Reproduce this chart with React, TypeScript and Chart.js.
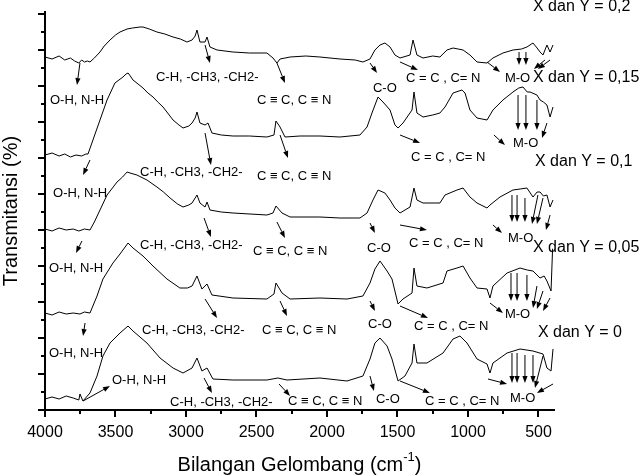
import React, { useEffect, useRef } from "react";
import { Chart, registerables } from "chart.js";

Chart.register(...registerables);

type Pt = [number, number];
type Note = { text: string; at: Pt; from: Pt; to: Pt };

const FONT = '"Liberation Sans", Arial, "DejaVu Sans", sans-serif';

const xTitle = "Bilangan Gelombang (cm";
const xTitleSup = "-1";
const yTitle = "Transmitansi (%)";

const majorTicks = [4000, 3500, 3000, 2500, 2000, 1500, 1000, 500];
const minorTicks = [3750, 3250, 2750, 2250, 1750, 1250, 750];
const yTickStep = 18;
const yMax = 398;
const xMin = 390;
const xMax = 4000;

const seriesNames = ["X dan Y = 0,2", "X dan Y = 0,15", "X dan Y = 0,1", "X dan Y = 0,05", "X dan Y = 0"];
const seriesLabelAt: Pt[] = [[539, 403], [539, 332], [525, 248], [539, 162], [504, 77]];

const spectrum02: Pt[] = [
  [4000, 353], [3950, 351], [3900, 354], [3860, 350], [3820, 352], [3790, 349], [3760, 347], [3740, 350], [3720, 348],
  [3700, 349], [3681, 348], [3650, 352], [3610, 358], [3580, 364], [3539, 370], [3500, 375], [3468, 378], [3418, 381],
  [3380, 382], [3326, 383], [3305, 383], [3260, 381], [3206, 378], [3150, 376], [3092, 373], [3040, 371], [2993, 368],
  [2957, 370], [2935, 374], [2922, 380], [2901, 368], [2865, 368], [2851, 373], [2830, 363], [2780, 360], [2667, 358],
  [2550, 357], [2426, 357], [2383, 352], [2355, 347], [2333, 351], [2262, 353], [2150, 354], [2050, 353], [1908, 351],
  [1800, 350], [1745, 348], [1695, 351], [1660, 360], [1624, 365], [1589, 367], [1553, 363], [1518, 355], [1482, 352],
  [1411, 355], [1390, 370], [1362, 355], [1319, 352], [1250, 354], [1199, 353], [1149, 360], [1106, 362], [1070, 361],
  [1035, 360], [986, 355], [936, 348], [865, 347], [823, 352], [752, 357], [681, 360], [620, 361], [582, 363],
  [539, 367], [510, 362], [489, 358], [468, 355], [440, 365], [418, 358], [397, 365],
];

const spectrum015: Pt[] = [
  [4000, 255], [3950, 257], [3900, 254], [3860, 256], [3820, 253], [3780, 255], [3740, 254], [3710, 256], [3695, 256],
  [3660, 270], [3610, 290], [3560, 310], [3504, 327], [3447, 333], [3425, 336], [3411, 337], [3395, 334], [3376, 330],
  [3340, 326], [3305, 322], [3270, 317], [3234, 313], [3200, 308], [3163, 303], [3130, 297], [3092, 290], [3050, 285],
  [3021, 282], [2980, 284], [2957, 287], [2935, 292], [2922, 298], [2901, 287], [2865, 285], [2844, 287], [2816, 277],
  [2750, 275], [2667, 274], [2550, 274], [2426, 273], [2376, 275], [2362, 289], [2333, 283], [2298, 273], [2191, 274],
  [2050, 274], [1908, 273], [1766, 275], [1716, 283], [1681, 297], [1638, 313], [1603, 308], [1553, 300], [1518, 285],
  [1496, 282], [1461, 287], [1397, 300], [1383, 318], [1362, 297], [1319, 293], [1250, 295], [1199, 297], [1163, 303],
  [1106, 317], [1043, 320], [1021, 317], [986, 300], [936, 292], [865, 290], [823, 300], [752, 310], [681, 318],
  [640, 322], [610, 323], [580, 318], [560, 318], [511, 315], [489, 310], [465, 308], [440, 305], [418, 293], [397, 303],
];

const spectrum01: Pt[] = [
  [4000, 181], [3950, 179], [3900, 182], [3850, 180], [3800, 181], [3760, 179], [3720, 181], [3681, 180], [3650, 188],
  [3610, 200], [3560, 215], [3489, 228], [3450, 233], [3418, 238], [3397, 237], [3348, 235], [3277, 230], [3206, 223],
  [3160, 218], [3113, 212], [3060, 206], [3021, 203], [2980, 205], [2957, 207], [2922, 215], [2901, 207], [2865, 203],
  [2851, 208], [2830, 200], [2750, 198], [2667, 197], [2426, 195], [2383, 197], [2362, 204], [2319, 197], [2262, 193],
  [2050, 193], [1908, 192], [1766, 192], [1716, 197], [1674, 210], [1638, 220], [1589, 217], [1553, 210], [1518, 202],
  [1482, 197], [1411, 203], [1383, 222], [1362, 210], [1319, 207], [1199, 207], [1163, 215], [1078, 220], [1035, 222],
  [986, 213], [936, 207], [865, 202], [844, 205], [773, 213], [681, 220], [630, 221], [582, 222], [539, 213],
  [510, 218], [489, 218], [465, 214], [440, 215], [418, 203], [397, 210],
];

const spectrum005: Pt[] = [
  [4000, 97], [3950, 95], [3900, 98], [3850, 96], [3800, 97], [3752, 96], [3720, 98], [3681, 97], [3631, 114],
  [3589, 131], [3518, 147], [3468, 156], [3411, 167], [3376, 162], [3305, 154], [3234, 144], [3135, 131], [3043, 122],
  [2990, 122], [2957, 124], [2922, 134], [2887, 121], [2851, 126], [2816, 115], [2667, 112], [2426, 111], [2376, 116],
  [2362, 127], [2319, 117], [2262, 111], [2050, 112], [1858, 111], [1745, 114], [1695, 127], [1660, 141], [1624, 149],
  [1574, 139], [1539, 131], [1496, 106], [1461, 111], [1397, 117], [1383, 142], [1362, 124], [1291, 122], [1177, 127],
  [1149, 139], [1078, 142], [1035, 144], [986, 132], [936, 122], [865, 121], [844, 112], [823, 124], [723, 137],
  [631, 142], [580, 140], [539, 139], [489, 132], [460, 134], [440, 129], [411, 119], [400, 161], [397, 161],
];

const spectrum0: Pt[] = [
  [4000, 11], [3950, 13], [3900, 11], [3850, 14], [3800, 12], [3760, 10], [3752, 16], [3731, 9], [3681, 17],
  [3631, 34], [3589, 54], [3539, 67], [3468, 77], [3411, 84], [3376, 79], [3277, 67], [3184, 52], [3092, 42],
  [3021, 37], [2957, 42], [2922, 52], [2887, 39], [2851, 42], [2809, 31], [2667, 30], [2426, 30], [2348, 32],
  [2284, 30], [2050, 32], [1858, 29], [1745, 34], [1695, 51], [1660, 67], [1624, 72], [1574, 64], [1539, 51],
  [1496, 29], [1447, 34], [1397, 47], [1383, 66], [1362, 47], [1291, 47], [1177, 57], [1106, 71], [1057, 74],
  [1007, 67], [936, 51], [865, 46], [844, 37], [823, 47], [723, 57], [631, 61], [539, 59], [468, 56], [440, 42],
  [411, 39], [397, 61],
];

const spectra = [spectrum02, spectrum015, spectrum01, spectrum005, spectrum0];

const notes02: Note[] = [
  { text: "O-H, N-H", at: [3965, 310], from: [3752, 347], to: [3773, 325] },
  { text: "C-H, -CH3, -CH2-", at: [3213, 333], from: [2865, 365], to: [2830, 347] },
  { text: "C \u2261 C, C \u2261 N", at: [2497, 310], from: [2355, 347], to: [2298, 327] },
  { text: "C-O", at: [1674, 322], from: [1695, 347], to: [1645, 337] },
  { text: "C = C , C= N", at: [1440, 332], from: [1482, 348], to: [1355, 340] },
  { text: "M-O", at: [738, 332], from: [865, 348], to: [773, 338] },
];
const notes015: Note[] = [
  { text: "O-H, N-H", at: [3943, 217], from: [3681, 250], to: [3730, 235] },
  { text: "C-H, -CH3, -CH2-", at: [3326, 238], from: [2865, 277], to: [2823, 245] },
  { text: "C \u2261 C, C \u2261 N", at: [2497, 234], from: [2333, 275], to: [2277, 252] },
  { text: "C = C , C= N", at: [1404, 253], from: [1482, 275], to: [1340, 267] },
  { text: "M-O", at: [681, 267], from: [816, 275], to: [738, 265] },
];
const notes01: Note[] = [
  { text: "O-H, N-H", at: [3972, 142], from: [3738, 169], to: [3780, 157] },
  { text: "C-H, -CH3, -CH2-", at: [3326, 165], from: [2872, 192], to: [2823, 173] },
  { text: "C \u2261 C, C \u2261 N", at: [2525, 159], from: [2355, 188], to: [2298, 172] },
  { text: "C-O", at: [1716, 162], from: [1695, 187], to: [1660, 177] },
  { text: "C = C , C= N", at: [1418, 167], from: [1482, 185], to: [1291, 180] },
  { text: "M-O", at: [716, 172], from: [823, 185], to: [759, 177] },
];
const notes005: Note[] = [
  { text: "O-H, N-H", at: [3972, 57], from: [3716, 87], to: [3730, 74] },
  { text: "C-H, -CH3, -CH2-", at: [3312, 80], from: [2865, 111], to: [2780, 92] },
  { text: "C \u2261 C, C \u2261 N", at: [2461, 80], from: [2333, 109], to: [2284, 94] },
  { text: "C-O", at: [1709, 86], from: [1695, 109], to: [1660, 99] },
  { text: "C = C , C= N", at: [1383, 84], from: [1482, 104], to: [1284, 92] },
  { text: "M-O", at: [738, 96], from: [844, 107], to: [752, 97] },
];
const notes0: Note[] = [
  { text: "O-H, N-H", at: [3525, 30], from: [3730, 9], to: [3539, 24] },
  { text: "C-H, -CH3, -CH2-", at: [3113, 8], from: [2872, 32], to: [2816, 17] },
  { text: "C \u2261 C, C \u2261 N", at: [2277, 9], from: [2340, 26], to: [2262, 14] },
  { text: "C-O", at: [1653, 11], from: [1695, 34], to: [1667, 19] },
  { text: "C = C , C= N", at: [1305, 9], from: [1482, 29], to: [1270, 17] },
  { text: "M-O", at: [702, 12], from: [858, 31], to: [723, 26] },
];
const notes = [notes02, notes015, notes01, notes005, notes0];

const moArrows: [Pt, Pt][] = [
  [[638, 358], [638, 345]], [[589, 358], [589, 345]], [[454, 350], [532, 341]], [[418, 350], [504, 341]],
  [[645, 315], [645, 280]], [[589, 315], [589, 280]], [[511, 310], [511, 280]], [[440, 287], [475, 272]],
  [[688, 215], [688, 188]], [[652, 215], [652, 188]], [[596, 212], [596, 188]], [[504, 215], [546, 186]],
  [[468, 212], [511, 186]], [[418, 195], [447, 180]],
  [[695, 137], [695, 109]], [[652, 137], [652, 109]], [[582, 135], [582, 109]], [[511, 124], [539, 102]],
  [[468, 119], [511, 101]], [[418, 112], [468, 99]],
  [[688, 57], [688, 27]], [[652, 57], [652, 27]], [[596, 55], [596, 27]], [[539, 55], [539, 27]],
  [[468, 54], [525, 22]], [[397, 26], [511, 17]],
];

function drawArrow(ctx: CanvasRenderingContext2D, x1: number, y1: number, x2: number, y2: number) {
  const a = Math.atan2(y2 - y1, x2 - x1);
  const len = 7;
  const hw = 2.6;
  const bx = x2 - len * Math.cos(a);
  const by = y2 - len * Math.sin(a);
  ctx.beginPath();
  ctx.moveTo(x1, y1);
  ctx.lineTo(bx, by);
  ctx.stroke();
  ctx.beginPath();
  ctx.moveTo(x2, y2);
  ctx.lineTo(bx + hw * Math.sin(a), by - hw * Math.cos(a));
  ctx.lineTo(bx - hw * Math.sin(a), by + hw * Math.cos(a));
  ctx.closePath();
  ctx.fill();
}

const overlay = {
  id: "overlay",
  afterDraw(chart: any) {
    const { ctx, chartArea } = chart;
    const xs = chart.scales.x;
    const ys = chart.scales.y;
    const X = (v: number) => xs.getPixelForValue(v);
    const Y = (v: number) => ys.getPixelForValue(v);
    ctx.save();
    ctx.strokeStyle = "#000";
    ctx.fillStyle = "#000";
    // y ticks
    ctx.lineWidth = 2;
    for (let k = 0; k * yTickStep <= yMax; k++) {
      const py = Math.round(Y(k * yTickStep));
      const len = k % 2 === 0 ? 7 : 4;
      ctx.beginPath();
      ctx.moveTo(chartArea.left - len, py);
      ctx.lineTo(chartArea.left, py);
      ctx.stroke();
    }
    // x minor ticks
    for (const w of minorTicks) {
      const px = Math.round(X(w));
      ctx.beginPath();
      ctx.moveTo(px, chartArea.bottom);
      ctx.lineTo(px, chartArea.bottom + 4);
      ctx.stroke();
    }
    // annotations
    ctx.lineWidth = 1;
    ctx.font = `13px ${FONT}`;
    ctx.textAlign = "left";
    ctx.textBaseline = "middle";
    for (const group of notes) {
      for (const n of group) {
        ctx.fillText(n.text, X(n.at[0]), Y(n.at[1]));
        drawArrow(ctx, X(n.from[0]), Y(n.from[1]), X(n.to[0]), Y(n.to[1]));
      }
    }
    for (const [f, t] of moArrows) {
      drawArrow(ctx, X(f[0]), Y(f[1]), X(t[0]), Y(t[1]));
    }
    // series labels
    ctx.font = `16px ${FONT}`;
    seriesNames.forEach((name, i) => {
      ctx.fillText(name, X(seriesLabelAt[i][0]), Y(seriesLabelAt[i][1]));
    });
    // x title with superscript
    const cx = (chartArea.left + chartArea.right) / 2;
    const ty = chartArea.bottom + 55;
    ctx.font = `20px ${FONT}`;
    const w1 = ctx.measureText(xTitle).width;
    const w3 = ctx.measureText(")").width;
    ctx.font = `13px ${FONT}`;
    const w2 = ctx.measureText(xTitleSup).width;
    const total = w1 + w2 + w3;
    let sx = cx - total / 2;
    ctx.font = `20px ${FONT}`;
    ctx.fillText(xTitle, sx, ty);
    sx += w1;
    ctx.font = `13px ${FONT}`;
    ctx.fillText(xTitleSup, sx, ty - 8);
    sx += w2;
    ctx.font = `20px ${FONT}`;
    ctx.fillText(")", sx, ty);
    // y title
    ctx.save();
    ctx.translate(11, (chartArea.top + chartArea.bottom) / 2);
    ctx.rotate(-Math.PI / 2);
    ctx.textAlign = "center";
    ctx.fillText(yTitle, 0, 0);
    ctx.restore();
    ctx.restore();
  },
};

export default function App() {
  const ref = useRef<HTMLCanvasElement>(null);
  useEffect(() => {
    if (!ref.current) return;
    const chart = new Chart(ref.current, {
      type: "line",
      data: {
        datasets: spectra.map((s, i) => ({
          label: seriesNames[i],
          data: s.map(([x, y]) => ({ x, y })),
          borderColor: "#000",
          borderWidth: 1,
          pointRadius: 0,
          tension: 0,
          fill: false,
        })),
      },
      options: {
        animation: false,
        responsive: false,
        devicePixelRatio: 1,
        layout: { padding: { top: 12, right: 89, bottom: 0, left: 0 } },
        plugins: { legend: { display: false }, tooltip: { enabled: false }, title: { display: false } },
        scales: {
          x: {
            type: "linear",
            reverse: true,
            min: xMin,
            max: xMax,
            afterBuildTicks: (scale: any) => {
              scale.ticks = majorTicks.map((v) => ({ value: v }));
            },
            afterFit: (scale: any) => {
              scale.height = 66;
            },
            ticks: {
              color: "#000",
              font: { family: FONT, size: 16 },
              padding: 6,
              maxRotation: 0,
              autoSkip: false,
              callback: (v: any) => String(v),
            },
            grid: { drawOnChartArea: false, tickLength: 7, color: "#000", lineWidth: 2 },
            border: { display: true, color: "#000", width: 2 },
          },
          y: {
            type: "linear",
            min: 0,
            max: yMax,
            afterFit: (scale: any) => {
              scale.width = 45;
            },
            ticks: { display: false },
            grid: { display: false },
            border: { display: true, color: "#000", width: 2 },
          },
        },
      },
      plugins: [overlay],
    } as any);
    return () => chart.destroy();
  }, []);
  return (
    <div style={{ position: "absolute", left: 0, top: 0, width: 643, height: 476 }}>
      <canvas ref={ref} width={643} height={476} />
    </div>
  );
}
